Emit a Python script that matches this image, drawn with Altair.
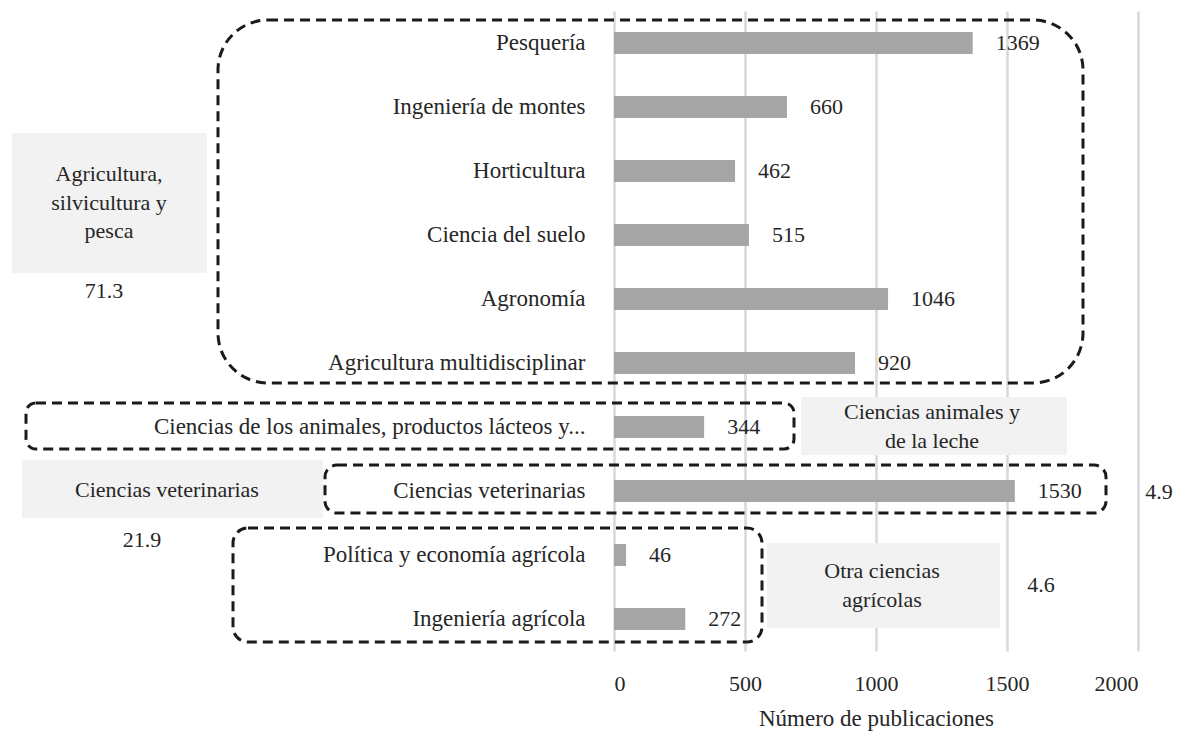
import altair as alt
import pandas as pd

categories = [
    "Pesquería",
    "Ingeniería de montes",
    "Horticultura",
    "Ciencia del suelo",
    "Agronomía",
    "Agricultura multidisciplinar",
    "Ciencias de los animales, productos lácteos y...",
    "Ciencias veterinarias",
    "Política y economía agrícola",
    "Ingeniería agrícola",
]
publications = [1369, 660, 462, 515, 1046, 920, 344, 1530, 46, 272]
x_ticks = [0, 500, 1000, 1500, 2000]

group_labels = [
    "Agricultura,\nsilvicultura y\npesca",
    "Ciencias animales y\nde la leche",
    "Ciencias veterinarias",
    "Otra ciencias\nagrícolas",
]
group_shares = ["71.3", "4.9", "21.9", "4.6"]
axis_title = "Número de publicaciones"

FONT = "Liberation Serif"
TXT = "#262626"
X0, Y0 = 614, 11  # page position of plot origin


def px(v):
    return v - X0


def py(v):
    return v - Y0


df = pd.DataFrame({"categoria": categories, "publicaciones": publications})
one = pd.DataFrame({"k": [0]})
base = alt.Chart(df)

x_enc = alt.X(
    "publicaciones:Q",
    scale=alt.Scale(domain=[0, 2000], nice=False),
    axis=alt.Axis(
        values=x_ticks,
        format="d",
        title=axis_title,
        domain=False,
        ticks=False,
        grid=True,
        gridColor="#d9d9d9",
        gridWidth=2.5,
        labelFont=FONT,
        labelFontSize=22,
        labelColor=TXT,
        labelPadding=22,
        titleFont=FONT,
        titleFontSize=23,
        titleFontWeight="normal",
        titleColor=TXT,
        titlePadding=13,
    ),
)
y_enc = alt.Y(
    "categoria:N",
    sort=categories,
    scale=alt.Scale(paddingInner=0.656, paddingOuter=0.328),
    axis=alt.Axis(
        title=None,
        domain=False,
        ticks=False,
        grid=False,
        labelFont=FONT,
        labelFontSize=23,
        labelColor=TXT,
        labelPadding=29,
        labelLimit=600,
    ),
)

layers = []


def gray_box(x1, y1, x2, y2):
    return alt.Chart(one).mark_rect(fill="#f2f2f2").encode(
        x=alt.value(px(x1)), x2=alt.value(px(x2)),
        y=alt.value(py(y1)), y2=alt.value(py(y2)),
    )


def dash_box(x1, y1, x2, y2, r):
    return alt.Chart(one).mark_rect(
        fill="white", fillOpacity=0, stroke="#1a1a1a", strokeWidth=3,
        strokeDash=[10, 6], cornerRadius=r,
    ).encode(
        x=alt.value(px(x1)), x2=alt.value(px(x2)),
        y=alt.value(py(y1)), y2=alt.value(py(y2)),
    )


def note(text, x, y):
    # y is the centre of the first line
    return alt.Chart(one).mark_text(
        font=FONT, fontSize=22, color=TXT, align="center", baseline="middle",
        lineBreak="\n", lineHeight=28.5,
    ).encode(x=alt.value(px(x)), y=alt.value(py(y)), text=alt.value(text))


# gray category boxes
layers += [
    gray_box(12, 133, 207, 273),
    gray_box(801, 397, 1067, 455),
    gray_box(22, 460, 323, 518),
    gray_box(767, 543, 1000, 628),
]

bars = base.mark_bar(color="#a5a5a5").encode(x=x_enc, y=y_enc)
vals = base.mark_text(
    align="left", baseline="middle", dx=23, font=FONT, fontSize=22, color=TXT
).encode(x="publicaciones:Q", y=alt.Y("categoria:N", sort=categories), text="publicaciones:Q")
layers += [bars, vals]

layers += [
    note(group_labels[0], 109, 174),
    note(group_shares[0], 104, 291),
    note(group_labels[1], 932, 412),
    note(group_shares[1], 1159, 492),
    note(group_labels[2], 167, 490),
    note(group_shares[2], 142, 540),
    note(group_labels[3], 882, 571),
    note(group_shares[3], 1041, 585),
]

layers += [
    dash_box(218, 20, 1083, 383, 50),
    dash_box(26, 403, 794, 449, 10),
    dash_box(325, 465, 1106, 513, 12),
    dash_box(233, 528, 762, 642, 15),
]

chart = alt.layer(*layers).properties(
    width=524,
    height=640,
    autosize=alt.AutoSizeParams(type="none"),
    padding={"left": 606, "top": 3, "right": 37, "bottom": 80},
).configure_view(stroke=None)

chart.save("out.html", embed_options={"renderer": "svg", "actions": False})
